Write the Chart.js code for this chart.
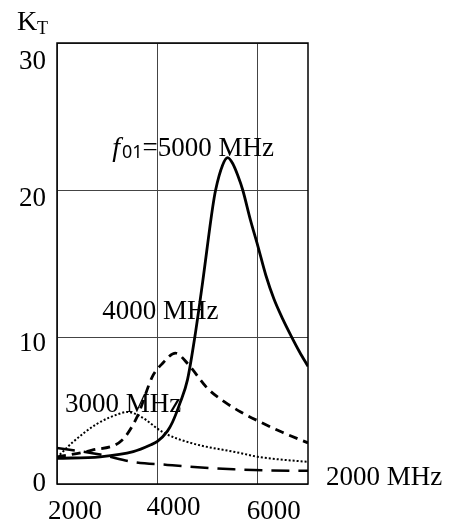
<!DOCTYPE html>
<html>
<head>
<meta charset="utf-8">
<script src="https://cdn.jsdelivr.net/npm/chart.js@4.4.1/dist/chart.umd.min.js"></script>
<style>
  html, body { margin: 0; padding: 0; background: #fff; }
  #wrap { position: relative; width: 449px; height: 526px; }
</style>
</head>
<body>
<div id="wrap"><canvas id="kt"></canvas></div>
<script>
// K_T vs frequency (MHz), four tuning frequencies f01
const xTicks = [2000, 4000, 6000];
const yTicks = [0, 10, 20, 30];

const f5000x = [2000, 2860, 3520, 3860, 4000, 4200, 4300, 4450, 4600, 4750, 4900, 5100, 5160, 5300, 5400, 5500, 5600, 5700, 5850, 6000, 6160, 6320, 6500, 6660, 6830, 7000];
const f5000y = [1.75, 1.85, 2.2, 2.65, 2.9, 3.6, 4.2, 5.5, 7.1, 10.1, 13.7, 18.8, 20, 21.7, 22.2, 21.8, 21.0, 20, 18, 16.2, 14.2, 12.6, 11.2, 10.1, 9.0, 8.0];

const f4000x = [2000, 2700, 3300, 3600, 3900, 4100, 4360, 4600, 5000, 5330, 5660, 6000, 6500, 7000];
const f4000y = [1.85, 2.3, 3.0, 4.6, 7.3, 8.2, 8.9, 8.2, 6.5, 5.6, 4.9, 4.3, 3.5, 2.8];

const f3000x = [2000, 2300, 2800, 3260, 3400, 3660, 4120, 4660, 5660, 6000, 7000];
const f3000y = [1.8, 2.8, 4.1, 4.8, 4.9, 4.6, 3.5, 2.8, 2.1, 1.85, 1.5];

const f2000x = [2000, 2860, 3520, 4200, 5520, 6860, 7000];
const f2000y = [2.45, 2.0, 1.5, 1.3, 1.0, 0.9, 0.9];

const pts = (xs, ys) => xs.map((x, i) => ({ x: x, y: ys[i] }));

const FONT = '27px "Liberation Serif", "DejaVu Serif", serif';

// frame, tick labels and curve captions
const decor = {
  id: 'decor',
  afterDraw(chart) {
    const ctx = chart.ctx;
    const a = chart.chartArea;
    const xs = chart.scales.x, ys = chart.scales.y;
    ctx.save();
    ctx.strokeStyle = '#000';
    ctx.lineWidth = 1.5;
    ctx.strokeRect(a.left, a.top, a.right - a.left, a.bottom - a.top);

    ctx.fillStyle = '#000';
    ctx.font = FONT;
    ctx.textBaseline = 'middle';
    ctx.textAlign = 'right';
    const yLabelShift = [0, 7, 9, 19];
    yTicks.forEach((v, i) => {
      ctx.fillText(String(v), 46, ys.getPixelForValue(v) + yLabelShift[i]);
    });
    ctx.textAlign = 'center';
    const xLabelShift = [18, 16, 16];
    const xLabelY = [512, 508, 512];
    xTicks.forEach((v, i) => {
      ctx.fillText(String(v), xs.getPixelForValue(v) + xLabelShift[i], xLabelY[i]);
    });

    // axis name K_T
    ctx.textAlign = 'left';
    ctx.textBaseline = 'alphabetic';
    ctx.font = '28px "Liberation Serif", serif';
    ctx.fillText('K', 17, 30);
    ctx.font = '18px "Liberation Serif", serif';
    ctx.fillText('T', 37, 34);

    // captions
    const at = (x, y) => [xs.getPixelForValue(x), ys.getPixelForValue(y)];
    let p = at(3100, 22.3);
    ctx.font = 'italic 28px "Liberation Serif", serif';
    ctx.fillText('f', p[0], p[1]);
    let w = ctx.measureText('f').width + 2;
    ctx.font = '18px "Noto Sans", sans-serif';
    ctx.fillText('01', p[0] + w, p[1] + 2);
    w += ctx.measureText('01').width;
    ctx.font = FONT;
    ctx.fillText('=5000 MHz', p[0] + w, p[1]);

    p = at(2900, 11.2);
    ctx.fillText('4000 MHz', p[0], p[1]);
    p = at(2160, 4.9);
    ctx.fillText('3000 MHz', p[0], p[1]);
    p = at(7360, -0.1);
    ctx.fillText('2000 MHz', p[0], p[1]);
    ctx.restore();
  }
};

new Chart(document.getElementById('kt'), {
  type: 'line',
  data: {
    datasets: [
      { label: '5000', data: pts(f5000x, f5000y), borderColor: '#000', borderWidth: 2.8 },
      { label: '4000', data: pts(f4000x, f4000y), borderColor: '#000', borderWidth: 2.8, borderDash: [9, 6] },
      { label: '3000', data: pts(f3000x, f3000y), borderColor: '#000', borderWidth: 2, borderDash: [2, 2] },
      { label: '2000', data: pts(f2000x, f2000y), borderColor: '#000', borderWidth: 2.5, borderDash: [18, 9] }
    ]
  },
  options: {
    responsive: true,
    maintainAspectRatio: false,
    animation: false,
    layout: { padding: { left: 57, right: 141, top: 43, bottom: 42 } },
    elements: {
      point: { radius: 0 },
      line: { cubicInterpolationMode: 'monotone', fill: false }
    },
    plugins: { legend: { display: false }, tooltip: { enabled: false } },
    scales: {
      x: {
        type: 'linear', min: 2000, max: 7000,
        afterBuildTicks: s => { s.ticks = xTicks.map(v => ({ value: v })); },
        ticks: { display: false },
        grid: { color: '#444', lineWidth: 1, drawTicks: false },
        border: { display: false }
      },
      y: {
        min: 0, max: 30,
        afterBuildTicks: s => { s.ticks = yTicks.map(v => ({ value: v })); },
        ticks: { display: false },
        grid: { color: '#444', lineWidth: 1, drawTicks: false },
        border: { display: false }
      }
    }
  },
  plugins: [decor]
});
</script>
</body>
</html>
